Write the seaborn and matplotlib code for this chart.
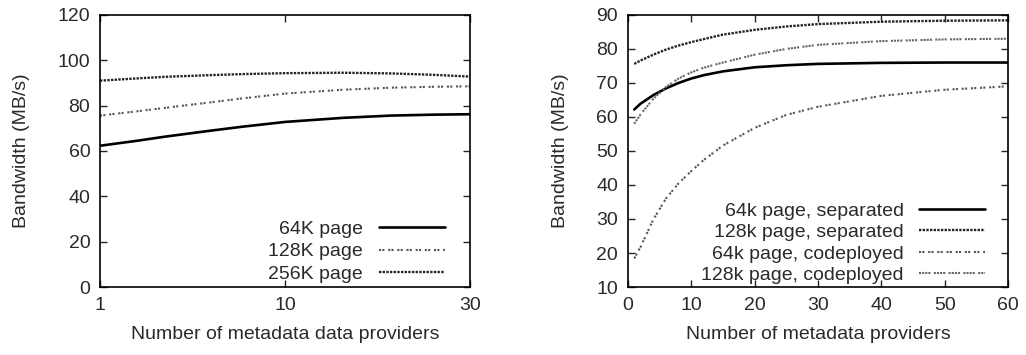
#encoding utf-8
# bandwidth vs metadata providers, two panels
import matplotlib as mpl
mpl.use('Agg')
import matplotlib.pyplot as plt
import seaborn as sns
import numpy as np
import pandas as pd

# left panel: page sizes
x_left = [1, 2, 3, 5, 7, 10, 15, 20, 25, 30]
bw_64k = [62.3, 64.5, 66.3, 68.8, 70.7, 72.8, 74.6, 75.6, 76.0, 76.2]
bw_128k = [75.6, 77.5, 79.0, 81.3, 83.2, 85.3, 87.0, 87.9, 88.3, 88.5]
bw_256k = [91.0, 92.0, 92.7, 93.4, 93.9, 94.3, 94.5, 94.2, 93.6, 92.8]

# right panel: separated vs codeployed
x_right = [1, 2, 4, 6, 8, 10, 12, 15, 20, 25, 30, 40, 50, 60]
sep_64k = [62.2, 63.9, 66.4, 68.4, 70.0, 71.3, 72.3, 73.4, 74.6, 75.2, 75.6, 75.9, 76.0, 76.0]
sep_128k = [75.6, 76.6, 78.3, 79.8, 81.0, 82.0, 82.9, 84.2, 85.6, 86.6, 87.3, 88.0, 88.3, 88.4]
cod_64k = [18.4, 21.8, 29.8, 36.0, 40.5, 44.1, 47.4, 51.6, 56.8, 60.6, 63.0, 66.2, 68.0, 69.0]
cod_128k = [58.0, 60.8, 65.3, 68.8, 71.3, 73.1, 74.5, 76.0, 78.3, 80.0, 81.2, 82.3, 82.8, 83.0]

sns.set_style("ticks")
plt.rcParams['font.family'] = ['Liberation Sans', 'DejaVu Sans']
plt.rcParams['font.size'] = 14
plt.rcParams['xtick.direction'] = 'in'
plt.rcParams['ytick.direction'] = 'in'
plt.rcParams['xtick.top'] = True
plt.rcParams['ytick.right'] = True
plt.rcParams['axes.edgecolor'] = 'black'
plt.rcParams['axes.linewidth'] = 1.2
plt.rcParams['text.color'] = '#2a2a2a'
plt.rcParams['axes.labelcolor'] = '#2a2a2a'
plt.rcParams['xtick.labelcolor'] = '#2a2a2a'
plt.rcParams['ytick.labelcolor'] = '#2a2a2a'

fig = plt.figure(figsize=(10.26, 3.55), dpi=100)
ax1 = fig.add_axes([0.0975, 0.1915, 0.3605, 0.7665])
ax2 = fig.add_axes([0.612, 0.1915, 0.3705, 0.7665])

solid = '-'
sparse = (0, (1, 0.6, 1, 1.8))
dense = (0, (1, 0.55))
dashdot = (0, (1, 0.5, 1, 0.5, 1, 0.5, 1, 1.6))

#左图
df1 = pd.DataFrame({'x': x_left, '64K page': bw_64k, '128K page': bw_128k, '256K page': bw_256k})
sns.lineplot(data=df1, x='x', y='64K page', ax=ax1, color='black', lw=1.9, linestyle=solid, label='64K page')
sns.lineplot(data=df1, x='x', y='128K page', ax=ax1, color='#555555', lw=1.5, linestyle=sparse, label='128K page')
sns.lineplot(data=df1, x='x', y='256K page', ax=ax1, color='#222222', lw=1.7, linestyle=dense, label='256K page')
p = 0.455
ax1.set_xscale('function', functions=(lambda v: np.power(np.clip(v, 1e-9, None), p),
                                      lambda v: np.power(np.clip(v, 1e-9, None), 1 / p)))
ax1.set_xlim(1, 30)
ax1.set_ylim(0, 120)
ax1.set_xticks([1, 10, 30])
ax1.set_xticklabels(['1', '10', '30'])
ax1.set_yticks(range(0, 121, 20))
ax1.xaxis.set_minor_locator(mpl.ticker.NullLocator())
ax1.set_xlabel('Number of metadata data providers', labelpad=9)
ax1.set_ylabel('Bandwidth (MB/s)', labelpad=20)
ax1.legend(loc='lower right', bbox_to_anchor=(0.932, 0.015), frameon=False, markerfirst=False,
           handlelength=3.4, labelspacing=0.25, borderaxespad=0, borderpad=0,
           handletextpad=0.8, fontsize=14)

#右图
df2 = pd.DataFrame({'x': x_right, 's64': sep_64k, 's128': sep_128k, 'c64': cod_64k, 'c128': cod_128k})
sns.lineplot(data=df2, x='x', y='s64', ax=ax2, color='black', lw=1.9, linestyle=solid, label='64k page, separated')
sns.lineplot(data=df2, x='x', y='s128', ax=ax2, color='#222222', lw=1.7, linestyle=dense, label='128k page, separated')
sns.lineplot(data=df2, x='x', y='c64', ax=ax2, color='#555555', lw=1.5, linestyle=sparse, label='64k page, codeployed')
sns.lineplot(data=df2, x='x', y='c128', ax=ax2, color='#666666', lw=1.5, linestyle=dashdot, label='128k page, codeployed')
ax2.set_xlim(0, 60)
ax2.set_ylim(10, 90)
ax2.set_xticks(range(0, 61, 10))
ax2.set_yticks(range(10, 91, 10))
ax2.set_xlabel('Number of metadata providers', labelpad=9)
ax2.set_ylabel('Bandwidth (MB/s)', labelpad=20)
ax2.legend(loc='lower right', bbox_to_anchor=(0.94, 0.01), frameon=False, markerfirst=False,
           handlelength=3.4, labelspacing=0.2, borderaxespad=0, borderpad=0,
           handletextpad=0.8, fontsize=14)

for ax in (ax1, ax2):
    ax.tick_params(which='major', length=5, width=1, pad=7)
    for s in ax.spines.values():
        s.set_visible(True)

fig.savefig('out.png', dpi=100)
